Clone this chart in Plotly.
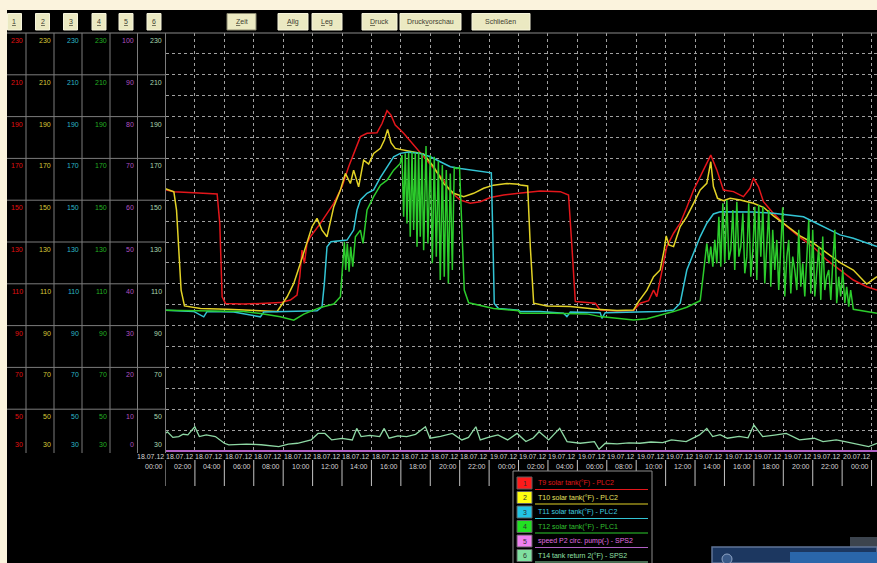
import plotly.graph_objects as go

# ---------------- data (hours since 18.07.12 00:00, values) ----------------
t9_hours = [0.0, 0.57, 1.92, 3.51, 3.69, 3.85, 4.08, 5.32, 6.45, 7.81, 8.49, 8.94, 9.13, 9.28, 9.44, 9.62,
            9.85, 10.53, 11.44, 12.0, 12.45, 12.79, 13.25, 13.70, 14.38, 14.72, 15.06, 15.33, 15.62, 16.19,
            16.87, 17.55, 18.23, 18.91, 19.36, 20.04, 20.72, 21.40, 22.08, 22.98, 24.0, 25.48, 26.84, 27.40,
            27.63, 27.86, 28.65, 29.22, 29.55, 30.69, 31.82, 32.27, 32.84, 33.18, 33.40, 33.63, 34.08, 34.54,
            34.99, 35.44, 35.90, 36.35, 36.80, 37.07, 37.48, 37.93, 38.61, 39.29, 39.74, 39.97, 40.31, 40.65,
            41.33, 42.24, 43.14, 44.05, 44.95, 45.86, 46.76, 47.67, 48.37]
t9_values = [155.0, 154.0, 153.6, 153.0, 138.9, 103.8, 100.6, 100.3, 100.6, 101.0, 102.2, 104.6, 113.4, 126.1,
             119.8, 129.3, 132.5, 138.9, 148.5, 156.4, 166.0, 172.4, 180.4, 182.0, 182.3, 186.7, 192.8, 190.7,
             186.0, 182.0, 176.4, 170.8, 165.2, 159.6, 154.1, 150.1, 148.5, 149.3, 151.3, 152.5, 153.3, 154.4,
             154.1, 152.5, 127.8, 101.5, 101.0, 100.7, 97.5, 97.0, 97.2, 100.7, 101.9, 107.0, 103.9, 112.6,
             127.8, 134.2, 139.0, 146.6, 154.9, 161.3, 167.6, 171.6, 164.5, 154.9, 154.1, 151.7, 155.7, 160.5,
             156.5, 149.3, 143.7, 137.4, 132.2, 127.5, 121.4, 116.6, 111.8, 108.6, 107.0]

t10_hours = [0.0, 0.57, 0.75, 0.91, 1.06, 1.29, 2.38, 4.19, 6.0, 7.59, 8.27, 8.72, 9.17, 9.62, 9.96, 10.30,
             10.64, 10.98, 11.44, 11.89, 12.23, 12.57, 12.79, 13.13, 13.47, 13.81, 14.15, 14.61, 14.88, 15.10,
             15.33, 15.62, 16.19, 16.87, 17.55, 18.23, 18.91, 19.59, 20.27, 20.95, 21.63, 22.30, 23.21, 24.0,
             24.12, 24.62, 24.80, 25.03, 25.93, 27.52, 29.33, 30.69, 31.82, 32.16, 32.73, 33.18, 33.63, 33.90,
             34.04, 34.22, 34.54, 34.99, 35.44, 35.90, 36.35, 36.80, 37.07, 37.25, 37.53, 37.93, 38.39, 39.07,
             39.97, 40.65, 41.33, 42.24, 43.14, 44.05, 44.95, 45.86, 46.76, 47.67, 48.37]
t10_values = [155.5, 154.0, 145.3, 126.1, 107.0, 99.4, 98.2, 97.8, 97.4, 96.8, 103.8, 110.2, 119.8, 129.3,
              137.3, 141.3, 135.7, 132.5, 146.9, 154.9, 162.8, 158.0, 164.4, 156.4, 169.2, 167.3, 172.4, 174.8,
              178.8, 183.9, 177.5, 174.8, 174.0, 173.2, 172.1, 166.0, 158.0, 153.3, 151.7, 153.3, 155.7, 157.2,
              158.0, 157.6, 157.3, 156.8, 127.8, 100.7, 99.4, 99.1, 97.8, 97.2, 97.5, 101.5, 107.0, 113.4, 116.6,
              126.2, 132.9, 128.6, 127.8, 137.4, 142.1, 148.5, 154.9, 158.1, 168.4, 156.5, 150.9, 149.8, 150.9,
              150.1, 148.5, 146.6, 142.5, 137.7, 132.9, 129.4, 124.9, 120.1, 116.6, 109.9, 113.4]

t11_hours = [0.0, 1.02, 1.92, 2.60, 2.83, 4.64, 6.45, 6.68, 8.72, 10.30, 10.64, 10.80, 10.98, 11.25, 12.34,
             12.79, 13.02, 13.25, 13.70, 14.15, 14.61, 15.06, 15.51, 15.96, 16.53, 17.32, 18.00, 18.68, 19.36,
             20.04, 20.95, 22.15, 22.26, 22.35, 22.64, 24.0, 24.12, 25.48, 27.06, 27.29, 27.52, 29.55, 29.67,
             29.89, 32.05, 33.63, 34.54, 34.99, 35.44, 35.90, 36.35, 36.80, 37.25, 37.71, 39.97, 41.33, 43.37,
             44.05, 44.95, 45.86, 46.76, 47.67, 48.37]
t11_values = [97.4, 97.1, 96.8, 94.2, 96.8, 96.5, 94.2, 96.5, 96.8, 97.1, 99.0, 110.2, 127.7, 130.1, 130.9,
              135.7, 145.3, 150.1, 153.3, 154.9, 160.9, 166.0, 170.8, 172.4, 173.0, 172.4, 170.8, 168.4, 166.0,
              165.2, 164.4, 163.1, 130.9, 100.6, 98.2, 97.4, 96.7, 96.7, 95.9, 94.3, 96.5, 96.2, 93.5, 96.2,
              96.5, 96.7, 97.5, 100.7, 116.6, 124.6, 132.6, 139.0, 143.4, 144.5, 144.4, 143.7, 142.1, 139.7,
              136.5, 133.4, 131.8, 129.4, 127.8]

t12_hours = [0.0, 1.92, 4.19, 5.32, 6.45, 7.81, 8.72, 9.40, 10.53, 11.44, 11.89,
             12.07, 12.16, 12.25, 12.36, 12.48, 12.59, 12.73, 12.91, 13.25, 13.43, 13.70, 14.15, 14.61, 15.06, 15.51, 15.96,
             16.08, 16.19, 16.30, 16.42, 16.53, 16.64, 16.76, 16.87, 16.98, 17.10, 17.21, 17.32, 17.44, 17.55, 17.71,
             17.84, 18.00, 18.14, 18.27, 18.41, 18.55, 18.68, 18.82, 18.95, 19.09, 19.23, 19.36, 19.50, 19.63,
             19.81, 19.99, 20.15, 20.31, 20.61, 21.40, 22.30, 24.0,
             24.12, 26.38, 28.65, 29.55, 30.91, 31.82, 32.73, 33.63, 34.54, 35.44, 36.35, 36.57,
             36.80, 36.94, 37.07, 37.21, 37.34, 37.48, 37.62, 37.75, 37.89, 38.02, 38.16, 38.30, 38.43, 38.57,
             38.70, 38.84, 38.98, 39.11, 39.25, 39.38, 39.52, 39.65, 39.79, 39.93, 40.06, 40.20, 40.33, 40.47,
             40.61, 40.74, 40.88, 41.01, 41.15, 41.28, 41.42, 41.56, 41.69, 41.83, 41.96, 42.10, 42.24, 42.37,
             42.51, 42.64, 42.78, 42.92, 43.05, 43.19, 43.32, 43.46, 43.59, 43.73, 43.87, 44.00, 44.14, 44.27,
             44.41, 44.55, 44.68, 44.82, 44.95, 45.09, 45.23, 45.36, 45.50, 45.63, 45.77, 45.90, 46.04, 46.18,
             46.31, 46.45, 46.58, 46.76, 47.67, 48.37]
t12_values = [97.4, 97.1, 97.1, 96.8, 95.8, 94.2, 92.6, 95.5, 98.7, 100.3, 103.8,
              119.8, 130.1, 116.6, 129.3, 115.8, 127.7, 118.2, 132.5, 135.7, 129.3, 145.3, 151.7, 157.2, 159.6, 164.4, 167.6,
              171.6, 142.1, 172.4, 138.9, 172.7, 132.5, 173.2, 135.7, 172.7, 127.7, 173.2, 132.5, 172.4, 126.1, 175.9,
              129.3, 171.6, 119.8, 170.8, 123.0, 168.9, 111.8, 166.8, 113.4, 164.4, 110.2, 162.8, 116.6, 165.7,
              165.1, 165.7, 138.9, 107.0, 100.9, 99.8, 98.2, 97.1,
              95.9, 95.9, 95.6, 94.3, 93.3, 92.7, 93.3, 94.9, 96.7, 98.8, 101.9, 115.0,
              129.4, 119.8, 127.8, 118.2, 131.0, 119.8, 142.1, 118.2, 148.5, 119.8, 150.1, 121.4, 126.2, 145.3,
              116.6, 149.3, 123.0, 127.8, 143.7, 115.0, 123.0, 148.5, 113.4, 126.2, 146.9, 111.8, 147.7, 123.0,
              146.9, 110.2, 126.2, 145.3, 108.6, 135.8, 116.6, 131.0, 107.0, 124.6, 146.6, 103.9, 123.0, 131.0,
              105.4, 123.0, 116.6, 107.0, 135.8, 108.6, 119.8, 103.9, 123.0, 140.5, 105.4, 135.8, 103.9, 116.6,
              127.8, 102.3, 132.6, 107.0, 113.4, 116.6, 102.3, 119.8, 135.8, 100.7, 113.4, 103.9, 116.6, 100.7,
              108.6, 99.1, 107.0, 97.8, 96.7, 95.9]

speed_hours = [0.0, 12.0, 24.0, 36.0, 48.37]
speed_values = [0, 0, 0, 0, 0]

t14_hours = [0.0, 0.13, 0.5, 0.9, 1.2, 1.52, 1.99, 2.3, 2.77, 3.39, 4.0, 4.3, 5.5, 6.5, 7.7, 8.35, 8.97, 9.9,
             10.37, 10.84, 11.3, 12.0, 12.7, 13.0, 13.3, 13.9, 14.56, 14.87, 15.2, 15.8, 16.4, 17.0, 17.67, 17.98,
             18.7, 19.5, 20.15, 20.6, 21.1, 21.4, 22.0, 22.6, 23.26, 23.9, 24.5, 25.0, 25.4, 26.05, 26.8, 27.3,
             28.2, 29.16, 29.47, 29.9, 30.7, 31.5, 32.26, 33.0, 33.8, 34.4, 35.4, 36.3, 36.8, 37.2, 37.7, 38.2,
             39.0, 39.6, 40.0, 40.6, 41.4, 42.2, 43.1, 44.1, 44.7, 45.6, 46.2, 47.2, 47.8, 48.37]
t14_values = [38.5, 39.2, 36.5, 36.9, 38.0, 37.7, 41.6, 36.9, 37.7, 36.9, 33.7, 32.9, 33.3, 33.0, 32.1, 33.3,
              33.7, 35.3, 38.4, 38.4, 35.3, 36.0, 35.3, 40.8, 36.9, 37.5, 36.9, 40.8, 36.1, 37.2, 36.9, 38.0,
              41.6, 36.1, 37.0, 38.4, 35.3, 36.5, 41.6, 35.3, 36.6, 37.7, 35.3, 38.4, 34.5, 36.2, 39.2, 35.3,
              40.8, 34.5, 33.7, 34.5, 30.8, 33.7, 33.4, 33.9, 33.7, 34.3, 34.0, 35.3, 34.5, 37.7, 40.8, 36.9,
              37.8, 36.1, 37.0, 36.3, 42.4, 36.9, 37.6, 38.4, 35.3, 36.1, 34.5, 35.3, 34.5, 32.9, 32.1, 33.7]

series_names = ["T9 solar tank(°F) - PLC2", "T10 solar tank(°F) - PLC2", "T11 solar tank(°F) - PLC2",
                "T12 solar tank(°F) - PLC1", "speed P2 circ. pump(-) - SPS2", "T14 tank return 2(°F) - SPS2"]

tick_hours = [0, 2, 4, 6, 8, 10, 12, 14, 16, 18, 20, 22, 24, 26, 28, 30, 32, 34, 36, 38, 40, 42, 44, 46, 48]
tick_dates = ["18.07.12"] * 12 + ["19.07.12"] * 12 + ["20.07.12"]
tick_times = ["00:00", "02:00", "04:00", "06:00", "08:00", "10:00", "12:00", "14:00", "16:00", "18:00",
              "20:00", "22:00", "00:00", "02:00", "04:00", "06:00", "08:00", "10:00", "12:00", "14:00",
              "16:00", "18:00", "20:00", "22:00", "00:00"]

scale_temp = [230, 210, 190, 170, 150, 130, 110, 90, 70, 50, 30]
scale_speed = [100, 90, 80, 70, 60, 50, 40, 30, 20, 10, 0]

buttons_num = ["1", "2", "3", "4", "5", "6"]
buttons_menu = ["<u>Z</u>eit", "<u>A</u>llg", "<u>L</u>eg", "<u>D</u>ruck", "Druck<u>v</u>orschau", "Schließen"]

# ---------------- styling ----------------
W, H = 877, 563
FONT = "Liberation Sans, Arial, sans-serif"
line_cols = ["#e3161b", "#e2d226", "#33c4d4", "#2ccc2c", "#b060c4", "#8ed8a4"]
label_cols = ["#e01010", "#d8c838", "#2cb8c8", "#22b022", "#b050c0", "#a8d8b0"]
legend_box_cols = ["#ff1a1a", "#ffff10", "#22c4e4", "#22e022", "#f080f0", "#80e0a0"]
legend_text_cols = ["#e01818", "#e6e060", "#40d0e0", "#30c030", "#e070e0", "#90e0a8"]


def X(p):
    return p / W


def Y(p):
    return 1 - p / H


fig = go.Figure()
for hrs, vals, col in [(t9_hours, t9_values, line_cols[0]), (t10_hours, t10_values, line_cols[1]),
                       (t11_hours, t11_values, line_cols[2]), (t12_hours, t12_values, line_cols[3])]:
    fig.add_trace(go.Scatter(x=hrs, y=vals, mode="lines", line=dict(color=col, width=1.5),
                             hoverinfo="skip", showlegend=False))
fig.add_trace(go.Scatter(x=speed_hours, y=speed_values, yaxis="y2", mode="lines",
                         line=dict(color=line_cols[4], width=2), hoverinfo="skip", showlegend=False))
fig.add_trace(go.Scatter(x=t14_hours, y=t14_values, mode="lines", line=dict(color=line_cols[5], width=1.3),
                         hoverinfo="skip", showlegend=False))

shapes = []
annotations = []

# black screen area
shapes.append(dict(type="rect", xref="paper", yref="paper", x0=X(7), x1=1, y0=0, y1=Y(10),
                   fillcolor="#000000", line=dict(width=0), layer="below"))
# top separator line
shapes.append(dict(type="line", xref="paper", yref="paper", x0=X(7), x1=1, y0=Y(33), y1=Y(33),
                   line=dict(color="#8a8a8a", width=1)))
# left scale panel vertical lines
for xp in [26, 54, 82, 110, 137.5, 165.5]:
    shapes.append(dict(type="line", xref="paper", yref="paper", x0=X(xp), x1=X(xp), y0=Y(453), y1=Y(33),
                       line=dict(color="#7c7c7c", width=1)))
# left scale panel horizontal lines
for v in scale_temp[1:-1]:
    shapes.append(dict(type="line", xref="paper", yref="y", x0=X(7), x1=X(165.5), y0=v, y1=v,
                       line=dict(color="#7c7c7c", width=1)))

# left scale labels
col_right = [24.5, 52.5, 80.5, 108.5, 135.5, 164]
for ci in range(6):
    labels = scale_speed if ci == 4 else scale_temp
    for k, v in enumerate(scale_temp):
        bottom = (k == len(scale_temp) - 1)
        annotations.append(dict(xref="paper", yref="y", x=X(col_right[ci]), y=v, text=str(labels[k]),
                                xanchor="right", yanchor="bottom" if bottom else "top",
                                yshift=1 if bottom else -2, showarrow=False,
                                font=dict(family=FONT, size=7, color=label_cols[ci])))

# toolbar buttons
btn_num_pos = [(7.5, 21.5), (35.5, 49.5), (63.5, 77.5), (92, 106), (119, 133), (147, 161)]
for (a, b), t in zip(btn_num_pos, buttons_num):
    shapes.append(dict(type="rect", xref="paper", yref="paper", x0=X(a), x1=X(b), y0=Y(30), y1=Y(13.5),
                       fillcolor="#ebe9c2", line=dict(color="#f6f4dc", width=1)))
    annotations.append(dict(xref="paper", yref="paper", x=X((a + b) / 2), y=Y(22), text="<u>" + t + "</u>",
                            showarrow=False, xanchor="center", yanchor="middle",
                            font=dict(family=FONT, size=7, color="#404030")))
btn_menu_pos = [(227, 256), (278, 308), (312, 342), (362, 397), (400, 461), (472, 530)]
for i, ((a, b), t) in enumerate(zip(btn_menu_pos, buttons_menu)):
    shapes.append(dict(type="rect", xref="paper", yref="paper", x0=X(a), x1=X(b), y0=Y(30), y1=Y(13.5),
                       fillcolor="#ebe9c2",
                       line=dict(color="#8a8870" if i == 0 else "#f6f4dc", width=1)))
    annotations.append(dict(xref="paper", yref="paper", x=X((a + b) / 2), y=Y(22), text=t,
                            showarrow=False, xanchor="center", yanchor="middle",
                            font=dict(family=FONT, size=7, color="#404030")))

# x-axis labels and tick marks
for h, d, t in zip(tick_hours, tick_dates, tick_times):
    annotations.append(dict(xref="x", yref="paper", x=h, y=Y(456.5), text=d, xanchor="right",
                            yanchor="middle", xshift=0, showarrow=False,
                            font=dict(family=FONT, size=7, color="#d4d4d4")))
    annotations.append(dict(xref="x", yref="paper", x=h, y=Y(466), text=t, xanchor="right",
                            yanchor="middle", xshift=-1, showarrow=False,
                            font=dict(family=FONT, size=7, color="#d4d4d4")))
    shapes.append(dict(type="line", xref="x", yref="paper", x0=h, x1=h, y0=Y(486), y1=Y(460),
                       line=dict(color="#c4c4c4", width=1)))

# legend box
shapes.append(dict(type="rect", xref="paper", yref="paper", x0=X(513), x1=X(652), y0=Y(575), y1=Y(471),
                   fillcolor="#000000", line=dict(color="#8c8c8c", width=1)))
row_y = [483, 497.5, 512, 526.5, 541, 555.5]
for i, name in enumerate(series_names):
    cy = row_y[i]
    shapes.append(dict(type="rect", xref="paper", yref="paper", x0=X(517), x1=X(532), y0=Y(cy + 6),
                       y1=Y(cy - 6), fillcolor=legend_box_cols[i], line=dict(color="#606060", width=1)))
    annotations.append(dict(xref="paper", yref="paper", x=X(524.5), y=Y(cy), text=str(i + 1),
                            showarrow=False, xanchor="center", yanchor="middle",
                            font=dict(family=FONT, size=7, color="#303030")))
    annotations.append(dict(xref="paper", yref="paper", x=X(535.5), y=Y(cy), text=name,
                            showarrow=False, xanchor="left", yanchor="middle",
                            font=dict(family=FONT, size=7, color=legend_text_cols[i])))
    shapes.append(dict(type="line", xref="paper", yref="paper", x0=X(535), x1=X(648), y0=Y(cy + 6.5),
                       y1=Y(cy + 6.5), line=dict(color=line_cols[i], width=1)))

# partial window in lower right corner
shapes.append(dict(type="rect", xref="paper", yref="paper", x0=X(850), x1=1, y0=Y(547), y1=Y(537),
                   fillcolor="#3c444e", line=dict(width=0)))
shapes.append(dict(type="rect", xref="paper", yref="paper", x0=X(712), x1=1, y0=0, y1=Y(547),
                   fillcolor="#1c3760", line=dict(color="#5f7496", width=1.5)))
shapes.append(dict(type="rect", xref="paper", yref="paper", x0=X(790), x1=1, y0=0, y1=Y(552),
                   fillcolor="#2a66aa", line=dict(width=0)))
shapes.append(dict(type="circle", xref="paper", yref="paper", x0=X(722), x1=X(732), y0=Y(564), y1=Y(554),
                   fillcolor="#3a5a88", line=dict(color="#8fa4c4", width=1)))

fig.update_layout(
    width=W, height=H,
    margin=dict(l=0, r=0, t=0, b=0, pad=0),
    paper_bgcolor="#fbf3dd",
    plot_bgcolor="#000000",
    showlegend=False,
    font=dict(family=FONT),
    xaxis=dict(domain=[X(165.5), 1], range=[0, 48.37], tick0=0, dtick=2, showgrid=True,
               gridcolor="#a0a0a0", griddash="3px,3px", gridwidth=1, showticklabels=False, ticks="",
               zeroline=False, showline=False, fixedrange=True),
    yaxis=dict(domain=[Y(452), Y(33)], range=[29.52, 230], tick0=30, dtick=10, showgrid=True,
               gridcolor="#a0a0a0", griddash="3px,3px", gridwidth=1, showticklabels=False, ticks="",
               zeroline=False, showline=False, fixedrange=True),
    yaxis2=dict(overlaying="y", range=[-0.24, 100], visible=False, fixedrange=True),
    shapes=shapes,
    annotations=annotations,
)

fig.write_html("out.html",
               config=dict(displayModeBar=False, staticPlot=True),
               post_script="document.body.style.margin='0px';document.body.style.overflow='hidden';"
                           "document.body.style.background='#fbf3dd';")
